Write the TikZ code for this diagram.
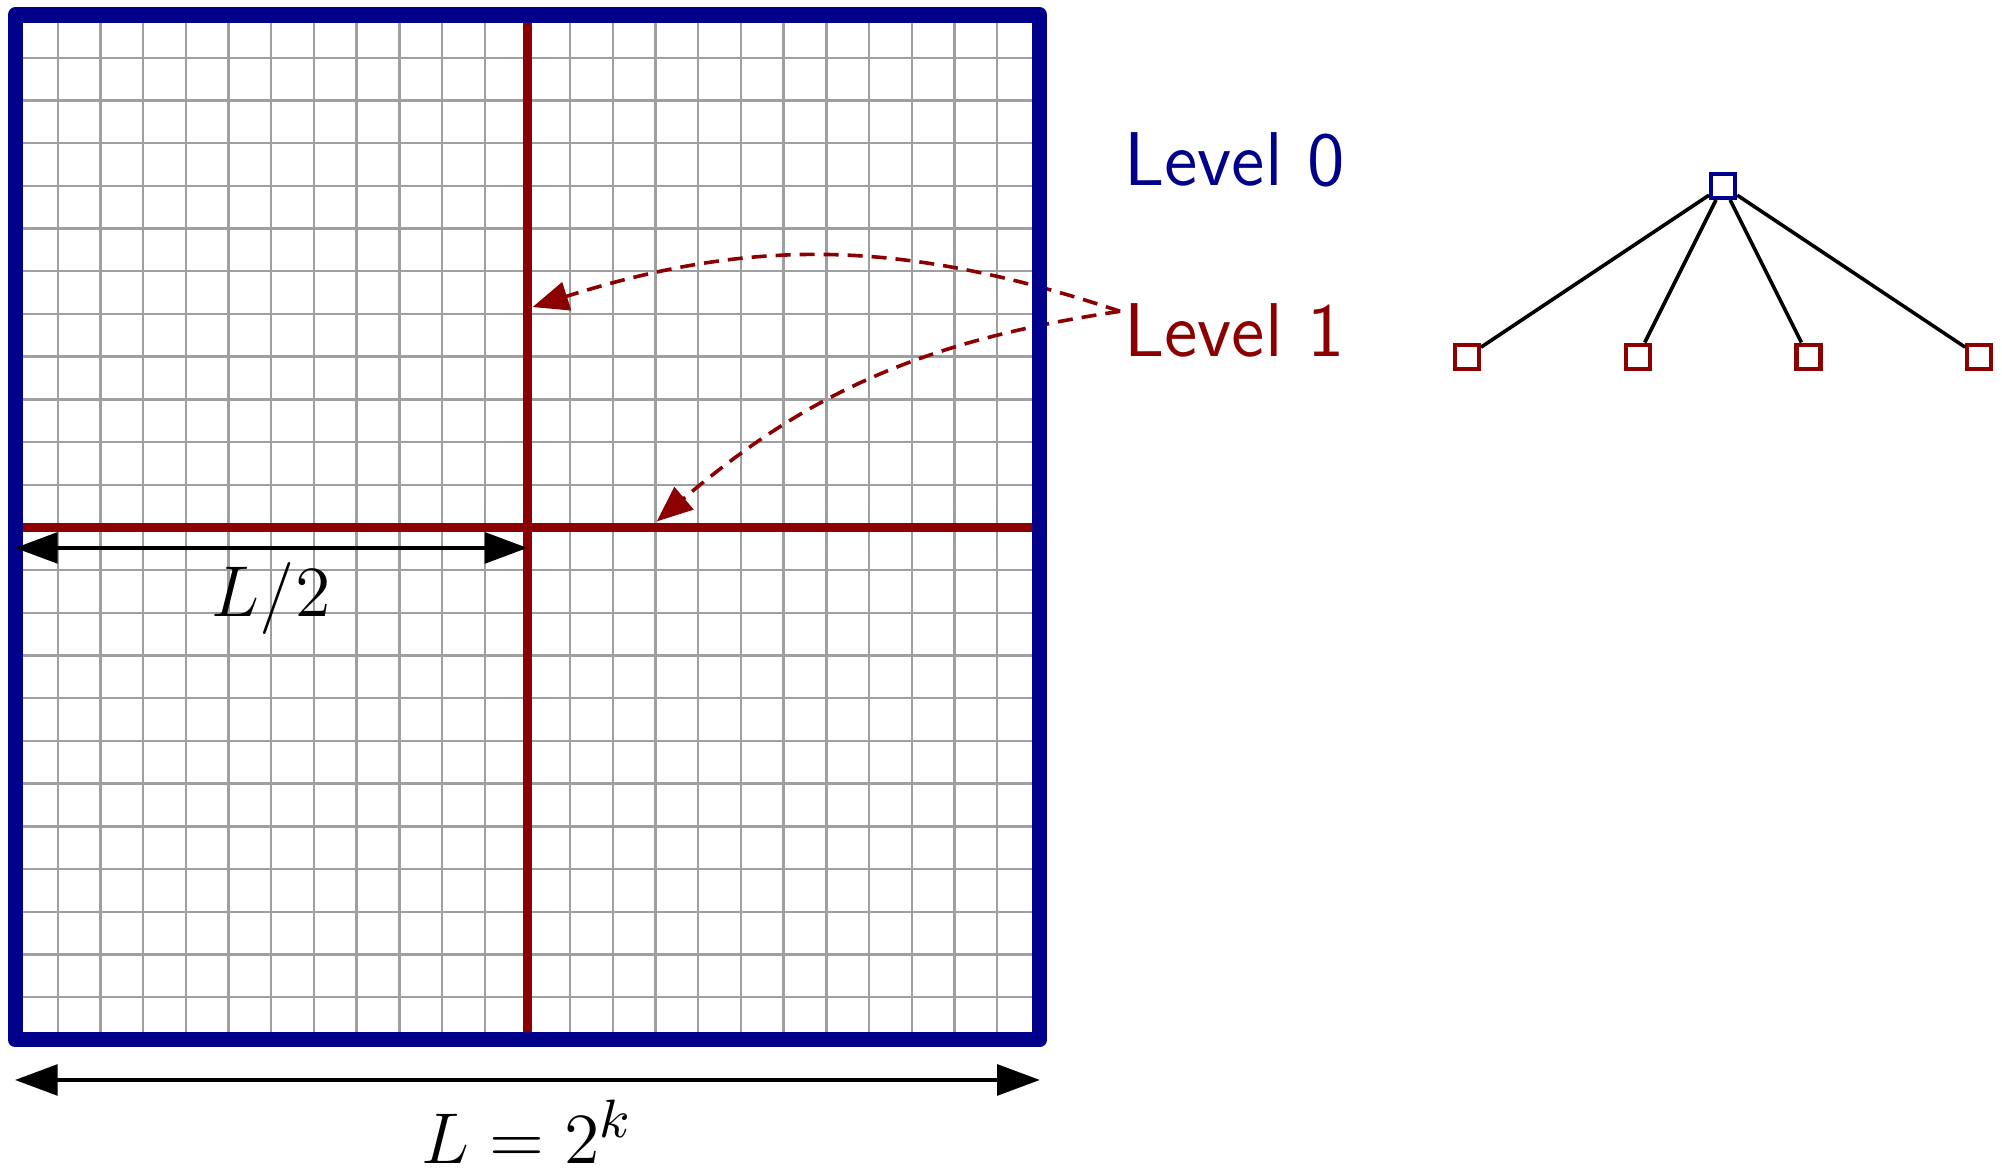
\documentclass[tikz,border=0pt]{standalone}
\usepackage{amsmath}
\usepackage{tikz}
\usetikzlibrary{arrows.meta, positioning, calc}
\definecolor{lvlblue}{RGB}{0,0,139}
\definecolor{lvlred}{RGB}{139,0,0}
\tikzset{
  frame/.style={draw=lvlblue, line width=2.5pt, line join=round},
  split/.style={draw=lvlred, line width=1.5pt},
  cellgrid/.style={draw=gray!75, line width=0.4pt},
  dimarr/.style={{Triangle[length=2.5mm,width=1.8mm]}-{Triangle[length=2.5mm,width=1.8mm]}, semithick},
  linkarr/.style={-{Triangle[length=2.1mm,width=1.7mm]}, draw=lvlred,
                  semithick, dash pattern=on 2.5pt off 1.5pt},
  lvltext/.style={font=\fontsize{12.7}{15}\sffamily, inner sep=0.5pt, anchor=base west},
}

\begin{document}
\begin{tikzpicture}[
  cellbox/.style={rectangle, draw, fill=white, line width=0.7pt,
                  minimum size=4pt, inner sep=0pt},
  tedge/.style={line width=0.6pt},
  font=\fontsize{12.7}{15}\selectfont
]
  \useasboundingbox (-0.088,-0.768) rectangle (11.633,6.088);

  \coordinate (sw) at (0,0);
  \coordinate (ne) at (6,6);
  \coordinate (botW) at (0,-0.235);
  \coordinate (botE) at (6,-0.235);
  \coordinate (halfW) at (0,2.88);
  \coordinate (halfE) at (3,2.88);
  \coordinate (hitV) at (3.03,4.29);
  \coordinate (hitH) at (3.757,3.035);

  \draw[cellgrid, step=0.25] (sw) grid (ne);
  \draw[split] (3,0) -- (3,6);
  \draw[split] (0,3) -- (6,3);

  \node[lvltext, text=lvlblue] (lvl0) at (6.47,5) {Level 0};
  \node[lvltext, text=lvlred]  (lvl1) at (6.47,4) {Level 1};

  \draw[linkarr] ([yshift=3.2pt]lvl1.west) to[bend right=18] (hitV);
  \draw[linkarr] ([yshift=3.2pt]lvl1.west) to[bend right=16] (hitH);

  \draw[frame] (sw) rectangle (ne);

  \draw[dimarr] (halfW) -- (halfE)
    node[midway, anchor=base, yshift=-11.5pt] (halflbl) {$L/2$};
  \draw[dimarr] (botW) -- (botE)
    node[midway, anchor=base, yshift=-13.9pt] (fulllbl) {$L = 2^k$};

  \node[cellbox, draw=lvlblue] (root) at (10,5) {};
  \foreach \i/\x in {1/8.5, 2/9.5, 3/10.5, 4/11.5} {
    \node[cellbox, draw=lvlred] (kid\i) at (\x,4) {};
    \draw[tedge] (root) -- (kid\i);
  }
\end{tikzpicture}
\end{document}
